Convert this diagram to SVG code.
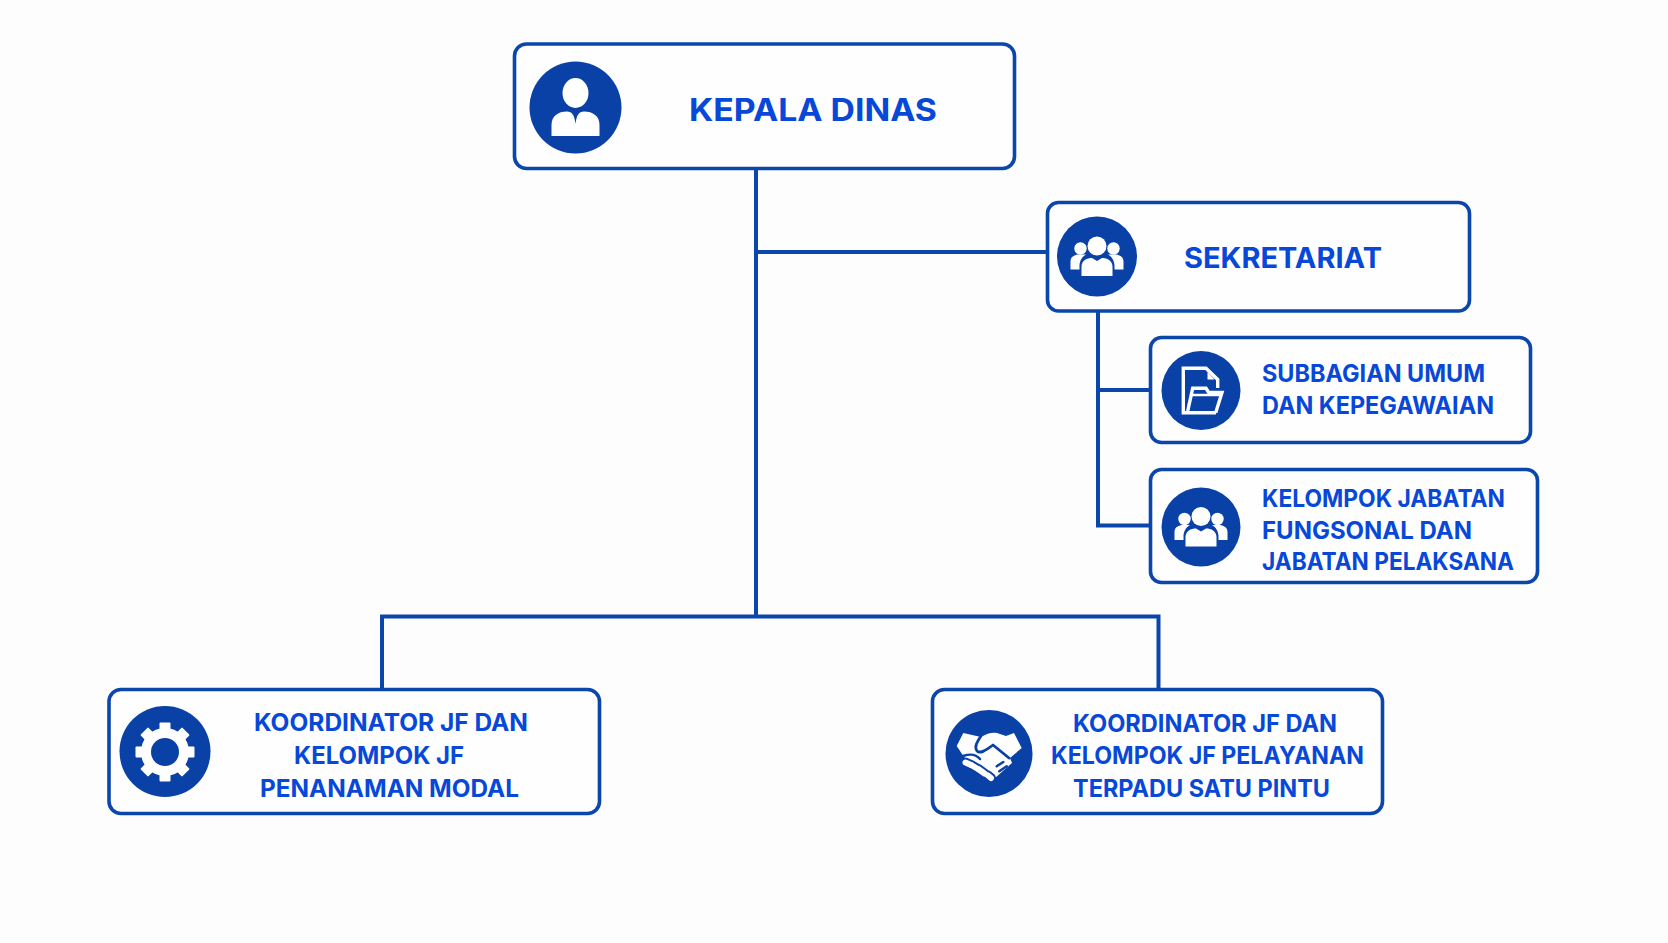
<svg xmlns="http://www.w3.org/2000/svg" width="1668" height="943" viewBox="0 0 1668 943">
<style>
.box{fill:#fefeff;stroke:#0b47ab;stroke-width:3.600}
.disc{fill:#0a41a6}
.line{fill:none;stroke:#0b47ab;stroke-width:4}
.ic{fill:#fff}
.ico{fill:none;stroke:#fff}
.cut{fill:none;stroke:#0a41a6;stroke-linecap:round;stroke-linejoin:round}
.fin{fill:none;stroke:#fff;stroke-width:6;stroke-linecap:round}
text{font-family:"Inter","Liberation Sans",sans-serif;font-weight:700;fill:#0748d8}
.t1{font-size:31px}.t2{font-size:28px}.t3{font-size:24px}
</style>
<defs>
<g id="people"><circle class="ic" cx="-16.5" cy="-8" r="6.200"/><circle class="ic" cx="16.500" cy="-8" r="6.200"/><path class="ic" d="M-26.500 13V5C-26.500 0-22-2-18-2H-11C-15 0-17.500 5-17.500 9V13Z"/><path class="ic" d="M26.500 13V5C26.500 0 22-2 18-2H11C15 0 17.500 5 17.500 9V13Z"/><circle class="ic" cx="0" cy="-10.500" r="9.500"/><path class="ic" d="M-15.500 19.500V10C-15.500 4-10 1.500-5 1.500L0 4.500L5 1.500C10 1.500 15.500 4 15.500 10V19.500Z"/></g>
</defs>
<rect width="1668" height="943" fill="#fdfdfe"/>
<g id="connectors">
<path class="line" d="M756 169V616.500M756 252H1047M382 689V616.500H1158.500V689M1098 312V525.500H1150M1098 390H1150"/>
</g>
<g id="node-kepala">
<rect class="box" x="514.500" y="44" width="500" height="124.500" rx="12"/>
<circle class="disc" cx="575.500" cy="107.500" r="46"/>
<ellipse class="ic" cx="575.500" cy="93" rx="13" ry="15"/>
<path class="ic" d="M551.500 136V125C551.500 116 558 111.500 567 111.500C572 111.500 574.500 115 575.500 124C576.500 115 579 111.500 584 111.500C593 111.500 599.500 116 599.500 125V136Z"/>
<text class="t1" x="689" y="121" textLength="248" lengthAdjust="spacingAndGlyphs">KEPALA DINAS</text>
</g>
<g id="node-sekretariat">
<rect class="box" x="1047.500" y="202.500" width="422" height="108.500" rx="11"/>
<circle class="disc" cx="1097" cy="256.500" r="40"/>
<use href="#people" x="1097" y="256.500"/>
<text class="t2" x="1184" y="268" textLength="198" lengthAdjust="spacingAndGlyphs">SEKRETARIAT</text>
</g>
<g id="node-subbagian">
<rect class="box" x="1150.500" y="337.500" width="380" height="105" rx="11"/>
<circle class="disc" cx="1201" cy="390.500" r="39.500"/>
<path class="ico" stroke-width="3.400" d="M1217.700 388V379.500L1206 368.300H1183.300V412.700H1216"/>
<path class="ic" d="M1207.500 372L1214.500 379.500H1207.500Z"/>
<path class="ico" stroke-width="3.400" d="M1187.700 411L1192.700 388.300H1206L1208.700 392.500H1222L1215.700 412.700"/>
<path class="ico" stroke-width="2.500" d="M1191 395H1222"/>
<text class="t3" x="1262" y="381.500" textLength="223" lengthAdjust="spacingAndGlyphs">SUBBAGIAN UMUM</text>
<text class="t3" x="1262" y="413.500" textLength="232" lengthAdjust="spacingAndGlyphs">DAN KEPEGAWAIAN</text>
</g>
<g id="node-kelompok">
<rect class="box" x="1150.500" y="469.500" width="387" height="113" rx="11"/>
<circle class="disc" cx="1201" cy="527" r="39.500"/>
<use href="#people" x="1201" y="527"/>
<text class="t3" x="1262" y="507" textLength="243" lengthAdjust="spacingAndGlyphs">KELOMPOK JABATAN</text>
<text class="t3" x="1262" y="538.500" textLength="210" lengthAdjust="spacingAndGlyphs">FUNGSONAL DAN</text>
<text class="t3" x="1262" y="570" textLength="252" lengthAdjust="spacingAndGlyphs">JABATAN PELAKSANA</text>
</g>
<g id="node-penanaman">
<rect class="box" x="109" y="689.500" width="490.500" height="124" rx="12"/>
<circle class="disc" cx="165" cy="751.500" r="45.500"/>
<g transform="translate(165 752)">
<circle class="ico" r="19" stroke-width="10"/>
<g class="ic"><rect x="-5.500" y="-29.500" width="11" height="9" rx="1"/><rect x="-5.500" y="-29.500" width="11" height="9" rx="1" transform="rotate(45)"/><rect x="-5.500" y="-29.500" width="11" height="9" rx="1" transform="rotate(90)"/><rect x="-5.500" y="-29.500" width="11" height="9" rx="1" transform="rotate(135)"/><rect x="-5.500" y="-29.500" width="11" height="9" rx="1" transform="rotate(180)"/><rect x="-5.500" y="-29.500" width="11" height="9" rx="1" transform="rotate(225)"/><rect x="-5.500" y="-29.500" width="11" height="9" rx="1" transform="rotate(270)"/><rect x="-5.500" y="-29.500" width="11" height="9" rx="1" transform="rotate(315)"/></g>
</g>
<text class="t3" x="254" y="731" textLength="274" lengthAdjust="spacingAndGlyphs">KOORDINATOR JF DAN</text>
<text class="t3" x="294" y="764" textLength="170" lengthAdjust="spacingAndGlyphs">KELOMPOK JF</text>
<text class="t3" x="260" y="797" textLength="259" lengthAdjust="spacingAndGlyphs">PENANAMAN MODAL</text>
</g>
<g id="node-pelayanan">
<rect class="box" x="932.500" y="689.500" width="450" height="124" rx="12"/>
<circle class="disc" cx="989" cy="753.500" r="43.500"/>
<g transform="translate(989 754)">
<path class="ic" d="M-25.700-21L-8-17C-2-21 4-22 8-21L17-18L25-21L32.700-6L21 4L23 9L6 24L0 24L-22 6L-25 3L-32.300-8Z"/>
<path class="cut" stroke-width="2.800" d="M-8-18C-12-12-15-7-12-3C-9 0-4-3 4-9L20 4"/>
<path class="cut" stroke-width="2.500" d="M7.700 12.300L14.300 8M10.300 17.300L17.700 12.300M-26 2C-20 0-14-1-9 5"/>
<g><path class="cut" stroke-width="10" d="M-23.500 8.500L-18 11"/><path class="cut" stroke-width="10" d="M-17 11.500L-11 15"/><path class="cut" stroke-width="10" d="M-10 15.500L-4.500 19.500"/><path class="cut" stroke-width="10" d="M-1 21.500L2 24"/></g>
<path class="fin" d="M-23.500 8.500L-18 11"/><path class="fin" d="M-17 11.500L-11 15"/><path class="fin" d="M-10 15.500L-4.500 19.500"/><path class="fin" d="M-1 21.500L2 24"/>
</g>
<text class="t3" x="1073" y="732" textLength="264" lengthAdjust="spacingAndGlyphs">KOORDINATOR JF DAN</text>
<text class="t3" x="1051" y="764" textLength="313" lengthAdjust="spacingAndGlyphs">KELOMPOK JF PELAYANAN</text>
<text class="t3" x="1073" y="797" textLength="257" lengthAdjust="spacingAndGlyphs">TERPADU SATU PINTU</text>
</g>
</svg>
